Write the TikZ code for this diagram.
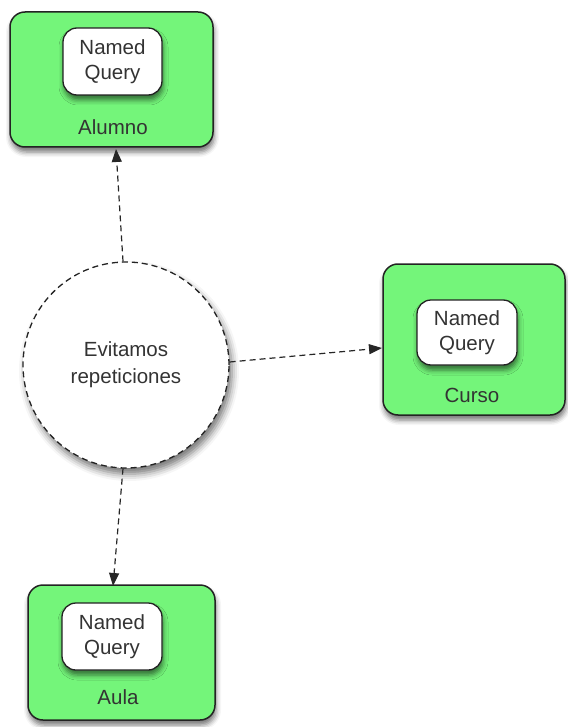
\documentclass[tikz,border=0pt]{standalone}
\usepackage{fontspec}
\setmainfont{Liberation Sans}
\usetikzlibrary{shadows.blur,arrows.meta}
\definecolor{boxgreen}{RGB}{116,245,122}
\definecolor{edgegray}{RGB}{35,35,35}
\tikzset{
  outerbox/.style={draw=edgegray, line width=1.5pt, fill=boxgreen, rounded corners=15pt,
    blur shadow={shadow xshift=1pt, shadow yshift=-5pt, shadow blur radius=5pt, shadow opacity=55}},
  innerbox/.style={draw=edgegray, line width=1.3pt, fill=white, rounded corners=14pt,
    blur shadow={shadow xshift=1pt, shadow yshift=-5pt, shadow blur radius=5pt, shadow opacity=55},
    align=center, font=\fontsize{20.5}{25}\selectfont, text=black!80},
  boxlabel/.style={font=\fontsize{20.5}{24}\selectfont, text=black!80},
  topic/.style={circle, draw=edgegray, dash pattern=on 6pt off 4pt, line width=1.3pt, fill=white, minimum size=206pt,
    blur shadow={shadow xshift=3pt, shadow yshift=-6pt, shadow blur radius=7pt, shadow opacity=55},
    align=center, font=\fontsize{20.5}{27}\selectfont, text=black!80},
  conn/.style={draw=black!85, dash pattern=on 6pt off 4pt, line width=1.2pt, -{Triangle[length=13pt,width=10pt]}}
}
\begin{document}
\begin{tikzpicture}[x=1pt,y=-1pt]
\useasboundingbox (0,0) rectangle (567,727);
% Alumno
\draw[outerbox] (10,12) rectangle (213,147);
\node[innerbox, minimum width=99pt, minimum height=67pt] (nqA) at (112.5,61.5) {Named\\Query};
\node[boxlabel] (lA) at (113,127) {Alumno};
\coordinate (alumno) at (116,149);
% Curso
\draw[outerbox] (383,264) rectangle (565,415);
\node[innerbox, minimum width=100pt, minimum height=65pt] (nqC) at (467,332.5) {Named\\Query};
\node[boxlabel] (lC) at (472,395) {Curso};
\coordinate (curso) at (382,348);
% Aula
\draw[outerbox] (28,585) rectangle (215,720);
\node[innerbox, minimum width=100pt, minimum height=67pt] (nqU) at (112,636.5) {Named\\Query};
\node[boxlabel] (lU) at (118,697) {Aula};
\coordinate (aula) at (113,586);
% central circle
\node[topic] (c) at (126,365) {Evitamos\\repeticiones};
% connectors
\draw[conn] (c.north) ++(-3,0) -- (alumno);
\draw[conn] (c.east) ++(0,-3) -- (curso);
\draw[conn] (c.south) ++(-3,0) -- (aula);
\end{tikzpicture}
\end{document}
